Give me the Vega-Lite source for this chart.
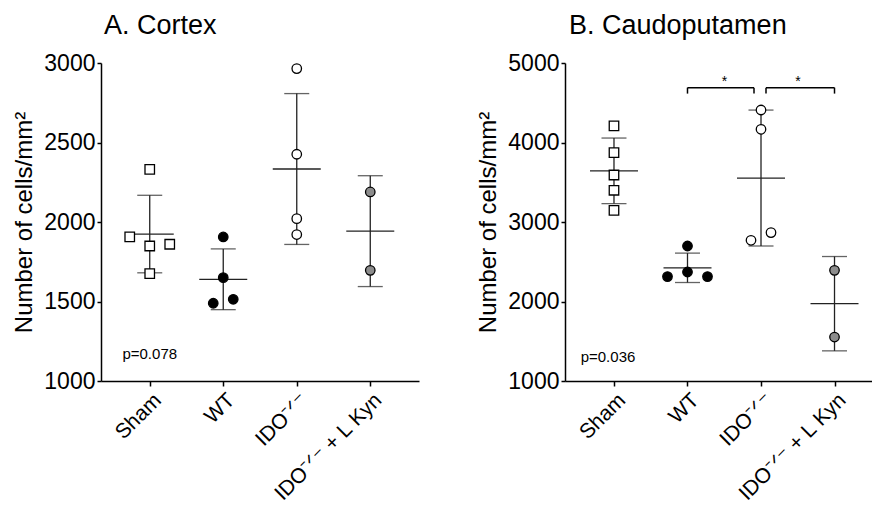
{
  "$schema": "https://vega.github.io/schema/vega-lite/v6.json",
  "background": "white",
  "padding": {"left": 12, "top": 12, "right": 0, "bottom": 0},
  "bounds": "flush",
  "spacing": 146,
  "config": {
    "font": "Liberation Sans",
    "view": {"stroke": null},
    "axis": {
      "grid": false,
      "domainColor": "black",
      "domainWidth": 1.5,
      "tickColor": "black",
      "tickWidth": 1.5,
      "tickSize": 4,
      "labelPadding": 2,
      "labelColor": "black",
      "labelFont": "Liberation Sans",
      "labelFontSize": 23,
      "titleFont": "Liberation Sans",
      "titleFontSize": 24,
      "titleFontWeight": "normal",
      "titleColor": "black"
    },
    "title": {"font": "Liberation Sans", "fontSize": 27, "fontWeight": "normal", "anchor": "start", "frame": "group", "color": "black"}
  },
  "datasets": {
    "pts": [
      {"region": "Cortex", "group": "Sham", "value": 2331, "slot": 0},
      {"region": "Cortex", "group": "Sham", "value": 1906, "slot": -2},
      {"region": "Cortex", "group": "Sham", "value": 1849, "slot": 0},
      {"region": "Cortex", "group": "Sham", "value": 1860, "slot": 2},
      {"region": "Cortex", "group": "Sham", "value": 1675, "slot": 0},
      {"region": "Cortex", "group": "WT", "value": 1906, "slot": 0},
      {"region": "Cortex", "group": "WT", "value": 1650, "slot": 0},
      {"region": "Cortex", "group": "WT", "value": 1489, "slot": -1},
      {"region": "Cortex", "group": "WT", "value": 1514, "slot": 1},
      {"region": "Cortex", "group": "IDO⁻ᐟ⁻", "value": 2965, "slot": 0},
      {"region": "Cortex", "group": "IDO⁻ᐟ⁻", "value": 2426, "slot": 0},
      {"region": "Cortex", "group": "IDO⁻ᐟ⁻", "value": 2021, "slot": 0},
      {"region": "Cortex", "group": "IDO⁻ᐟ⁻", "value": 1921, "slot": 0},
      {"region": "Cortex", "group": "IDO⁻ᐟ⁻ + L Kyn", "value": 2189, "slot": 0},
      {"region": "Cortex", "group": "IDO⁻ᐟ⁻ + L Kyn", "value": 1696, "slot": 0},
      {"region": "Caudoputamen", "group": "Sham", "value": 4208, "slot": 0},
      {"region": "Caudoputamen", "group": "Sham", "value": 3873, "slot": 0},
      {"region": "Caudoputamen", "group": "Sham", "value": 3591, "slot": 0},
      {"region": "Caudoputamen", "group": "Sham", "value": 3399, "slot": 0},
      {"region": "Caudoputamen", "group": "Sham", "value": 3147, "slot": 0},
      {"region": "Caudoputamen", "group": "WT", "value": 2698, "slot": 0},
      {"region": "Caudoputamen", "group": "WT", "value": 2371, "slot": 0},
      {"region": "Caudoputamen", "group": "WT", "value": 2313, "slot": -2},
      {"region": "Caudoputamen", "group": "WT", "value": 2313, "slot": 2},
      {"region": "Caudoputamen", "group": "IDO⁻ᐟ⁻", "value": 4409, "slot": 0},
      {"region": "Caudoputamen", "group": "IDO⁻ᐟ⁻", "value": 4166, "slot": 0},
      {"region": "Caudoputamen", "group": "IDO⁻ᐟ⁻", "value": 2770, "slot": -1},
      {"region": "Caudoputamen", "group": "IDO⁻ᐟ⁻", "value": 2867, "slot": 1},
      {"region": "Caudoputamen", "group": "IDO⁻ᐟ⁻ + L Kyn", "value": 2392, "slot": 0},
      {"region": "Caudoputamen", "group": "IDO⁻ᐟ⁻ + L Kyn", "value": 1553, "slot": 0}
    ]
  },
  "hconcat": [
    {
      "width": 318,
      "height": 318,
      "title": {"text": "A. Cortex", "offset": 12, "dx": 3},
      "encoding": {
        "x": {
          "field": "group", "type": "nominal",
          "scale": {"type": "point", "domain": ["Sham", "WT", "IDO⁻ᐟ⁻", "IDO⁻ᐟ⁻ + L Kyn"], "padding": 0.663},
          "axis": {"title": null, "labelAngle": -45, "tickSize": 5, "labelPadding": 3, "labelFontSize": 21}
        }
      },
      "layer": [
        {
          "data": {"name": "pts"},
          "transform": [{"filter": "datum.region === 'Cortex'"}],
          "layer": [
            {
              "mark": {"type": "errorbar", "extent": "stdev", "color": "#222", "thickness": 1.3, "ticks": {"size": 25, "color": "#222", "thickness": 1.3}},
              "encoding": {"y": {"field": "value", "type": "quantitative", "title": "Number of cells/mm²",
                "scale": {"domain": [1000, 3000], "nice": false},
                "axis": {"values": [1000, 1500, 2000, 2500, 3000], "format": "d", "titlePadding": 7}}}
            },
            {
              "mark": {"type": "tick", "size": 48, "thickness": 1.3, "color": "#222", "opacity": 1},
              "encoding": {"y": {"aggregate": "mean", "field": "value", "type": "quantitative", "title": "Number of cells/mm²"}}
            },
            {
              "mark": {"type": "point", "filled": true, "size": 90, "stroke": "black", "strokeWidth": 1.3, "opacity": 1},
              "encoding": {
                "y": {"field": "value", "type": "quantitative", "title": "Number of cells/mm²"},
                "xOffset": {"field": "slot", "type": "quantitative", "scale": {"domain": [-2, 2], "range": [-20, 20]}},
                "shape": {"field": "group", "type": "nominal", "legend": null, "scale": {"domain": ["Sham", "WT", "IDO⁻ᐟ⁻", "IDO⁻ᐟ⁻ + L Kyn"], "range": ["square", "circle", "circle", "circle"]}},
                "fill": {"field": "group", "type": "nominal", "legend": null, "scale": {"domain": ["Sham", "WT", "IDO⁻ᐟ⁻", "IDO⁻ᐟ⁻ + L Kyn"], "range": ["white", "black", "white", "#8c8c8c"]}}
              }
            }
          ]
        },
        {
          "data": {"values": [{"group": "Sham", "value": 1168, "label": "p=0.078"}]},
          "mark": {"type": "text", "fontSize": 15, "color": "black", "align": "center", "baseline": "middle"},
          "encoding": {"y": {"field": "value", "type": "quantitative", "title": "Number of cells/mm²"}, "text": {"field": "label"}}
        }
      ]
    },
    {
      "width": 308,
      "height": 318,
      "title": {"text": "B. Caudoputamen", "offset": 12, "dx": 4},
      "encoding": {
        "x": {
          "field": "group", "type": "nominal",
          "scale": {"type": "point", "domain": ["Sham", "WT", "IDO⁻ᐟ⁻", "IDO⁻ᐟ⁻ + L Kyn"], "padding": 0.595, "align": 0.56},
          "axis": {"title": null, "labelAngle": -45, "tickSize": 5, "labelPadding": 3, "labelFontSize": 21}
        }
      },
      "layer": [
        {
          "data": {"name": "pts"},
          "transform": [{"filter": "datum.region === 'Caudoputamen'"}],
          "layer": [
            {
              "mark": {"type": "errorbar", "extent": "stdev", "color": "#222", "thickness": 1.3, "ticks": {"size": 25, "color": "#222", "thickness": 1.3}},
              "encoding": {"y": {"field": "value", "type": "quantitative", "title": "Number of cells/mm²",
                "scale": {"domain": [1000, 5000], "nice": false},
                "axis": {"values": [1000, 2000, 3000, 4000, 5000], "format": "d", "titlePadding": 7}}}
            },
            {
              "mark": {"type": "tick", "size": 48, "thickness": 1.3, "color": "#222", "opacity": 1},
              "encoding": {"y": {"aggregate": "mean", "field": "value", "type": "quantitative", "title": "Number of cells/mm²"}}
            },
            {
              "mark": {"type": "point", "filled": true, "size": 90, "stroke": "black", "strokeWidth": 1.3, "opacity": 1},
              "encoding": {
                "y": {"field": "value", "type": "quantitative", "title": "Number of cells/mm²"},
                "xOffset": {"field": "slot", "type": "quantitative", "scale": {"domain": [-2, 2], "range": [-20, 20]}},
                "shape": {"field": "group", "type": "nominal", "legend": null, "scale": {"domain": ["Sham", "WT", "IDO⁻ᐟ⁻", "IDO⁻ᐟ⁻ + L Kyn"], "range": ["square", "circle", "circle", "circle"]}},
                "fill": {"field": "group", "type": "nominal", "legend": null, "scale": {"domain": ["Sham", "WT", "IDO⁻ᐟ⁻", "IDO⁻ᐟ⁻ + L Kyn"], "range": ["white", "black", "white", "#8c8c8c"]}}
              }
            }
          ]
        },
        {
          "data": {"values": [{"group": "Sham", "value": 1298, "label": "p=0.036"}]},
          "mark": {"type": "text", "fontSize": 15, "color": "black", "align": "center", "baseline": "middle", "dx": -6},
          "encoding": {"y": {"field": "value", "type": "quantitative", "title": "Number of cells/mm²"}, "text": {"field": "label"}}
        },
        {
          "data": {"values": [{"from": "WT", "to": "IDO⁻ᐟ⁻", "value": 4690}]},
          "mark": {"type": "rule", "color": "black", "strokeWidth": 1.5, "x2Offset": -7},
          "encoding": {"x": {"field": "from", "type": "nominal"}, "x2": {"field": "to"}, "y": {"field": "value", "type": "quantitative", "title": "Number of cells/mm²"}}
        },
        {
          "data": {"values": [{"at": "WT", "top": 4690, "bottom": 4615}]},
          "mark": {"type": "rule", "color": "black", "strokeWidth": 1.5},
          "encoding": {"x": {"field": "at", "type": "nominal"}, "y": {"field": "top", "type": "quantitative", "title": "Number of cells/mm²"}, "y2": {"field": "bottom"}}
        },
        {
          "data": {"values": [{"at": "IDO⁻ᐟ⁻", "top": 4690, "bottom": 4615}]},
          "mark": {"type": "rule", "color": "black", "strokeWidth": 1.5, "xOffset": -7},
          "encoding": {"x": {"field": "at", "type": "nominal"}, "y": {"field": "top", "type": "quantitative", "title": "Number of cells/mm²"}, "y2": {"field": "bottom"}}
        },
        {
          "data": {"values": [{"from": "IDO⁻ᐟ⁻", "to": "IDO⁻ᐟ⁻ + L Kyn", "value": 4690}]},
          "mark": {"type": "rule", "color": "black", "strokeWidth": 1.5, "xOffset": 5},
          "encoding": {"x": {"field": "from", "type": "nominal"}, "x2": {"field": "to"}, "y": {"field": "value", "type": "quantitative", "title": "Number of cells/mm²"}}
        },
        {
          "data": {"values": [{"at": "IDO⁻ᐟ⁻", "top": 4690, "bottom": 4615}]},
          "mark": {"type": "rule", "color": "black", "strokeWidth": 1.5, "xOffset": 5},
          "encoding": {"x": {"field": "at", "type": "nominal"}, "y": {"field": "top", "type": "quantitative", "title": "Number of cells/mm²"}, "y2": {"field": "bottom"}}
        },
        {
          "data": {"values": [{"at": "IDO⁻ᐟ⁻ + L Kyn", "top": 4690, "bottom": 4615}]},
          "mark": {"type": "rule", "color": "black", "strokeWidth": 1.5},
          "encoding": {"x": {"field": "at", "type": "nominal"}, "y": {"field": "top", "type": "quantitative", "title": "Number of cells/mm²"}, "y2": {"field": "bottom"}}
        },
        {
          "data": {"values": [{"at": "WT", "value": 4715, "label": "*"}, {"at": "IDO⁻ᐟ⁻", "value": 4715, "label": "*"}]},
          "mark": {"type": "text", "fontSize": 14, "color": "black", "align": "center", "baseline": "alphabetic", "dx": 37},
          "encoding": {"x": {"field": "at", "type": "nominal"}, "y": {"field": "value", "type": "quantitative", "title": "Number of cells/mm²"}, "text": {"field": "label"}}
        }
      ]
    }
  ]
}
